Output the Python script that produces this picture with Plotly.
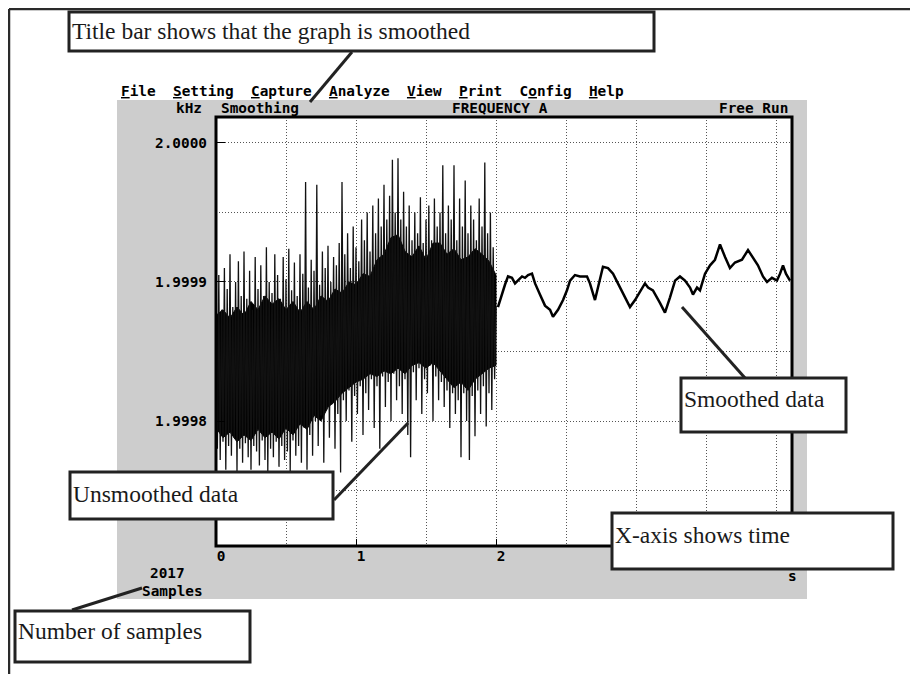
import numpy as np
import plotly.graph_objects as go

# a pagina do plotly tem 8 px de margem no body: desconta isso
OFF = 8
W, H = 918 - OFF, 674 - OFF

# ================= DADOS (kHz) =================
# parte sem suavizacao: 0 .. 2 s (picos e vales alternados)
unsmoothed_khz = [
    1.999885, 1.999780, 1.999905, 1.999772, 1.999880, 1.999785, 1.999910, 1.999765, 1.999895, 1.999782,
    1.999920, 1.999775, 1.999882, 1.999788, 1.999900, 1.999763, 1.999915, 1.999780, 1.999890, 1.999770,
    1.999922, 1.999784, 1.999888, 1.999774, 1.999908, 1.999765, 1.999880, 1.999782, 1.999918, 1.999778,
    1.999895, 1.999768, 1.999912, 1.999786, 1.999890, 1.999772, 1.999925, 1.999763, 1.999900, 1.999780,
    1.999892, 1.999774, 1.999920, 1.999785, 1.999905, 1.999767, 1.999888, 1.999782, 1.999918, 1.999772,
    1.999902, 1.999778, 1.999924, 1.999764, 1.999894, 1.999786, 1.999914, 1.999775, 1.999890, 1.999782,
    1.999920, 1.999770, 1.999906, 1.999795, 1.999972, 1.999765, 1.999896, 1.999790, 1.999916, 1.999775,
    1.999908, 1.999800, 1.999970, 1.999782, 1.999898, 1.999804, 1.999922, 1.999770, 1.999910, 1.999808,
    1.999926, 1.999788, 1.999900, 1.999812, 1.999918, 1.999780, 1.999912, 1.999805, 1.999928, 1.999763,
    1.999972, 1.999815, 1.999920, 1.999800, 1.999935, 1.999822, 1.999910, 1.999785, 1.999940, 1.999818,
    1.999925, 1.999805, 1.999915, 1.999825, 1.999945, 1.999790, 1.999930, 1.999820, 1.999950, 1.999808,
    1.999922, 1.999830, 1.999955, 1.999795, 1.999935, 1.999825, 1.999960, 1.999780, 1.999940, 1.999832,
    1.999970, 1.999810, 1.999945, 1.999828, 1.999962, 1.999800, 1.999988, 1.999834, 1.999950, 1.999815,
    1.999989, 1.999825, 1.999945, 1.999805, 1.999965, 1.999830, 1.999940, 1.999790, 1.999955, 1.999774,
    1.999930, 1.999835, 1.999950, 1.999815, 1.999935, 1.999838, 1.999961, 1.999805, 1.999928, 1.999830,
    1.999945, 1.999820, 1.999955, 1.999840, 1.999930, 1.999800, 1.999960, 1.999832, 1.999940, 1.999815,
    1.999950, 1.999828, 1.999984, 1.999810, 1.999935, 1.999822, 1.999955, 1.999795, 1.999945, 1.999820,
    1.999984, 1.999805, 1.999930, 1.999815, 1.999960, 1.999774, 1.999940, 1.999820, 1.999973, 1.999800,
    1.999935, 1.999772, 1.999955, 1.999818, 1.999945, 1.999789, 1.999930, 1.999822, 1.999960, 1.999805,
    1.999940, 1.999825, 1.999986, 1.999796, 1.999935, 1.999820, 1.999950, 1.999808, 1.999925, 1.999830,
    1.999882,
]
sample_step_s = 0.01
unsmoothed_t = np.arange(len(unsmoothed_khz)) * sample_step_s

# nucleo denso (faixa preta solida) da parte sem suavizacao, a cada 0.05 s
core_step_s = 0.05
core_top_khz = [
    1.999876, 1.999880, 1.999874, 1.999882, 1.999876, 1.999886, 1.999880, 1.999890, 1.999884, 1.999888,
    1.999880, 1.999886, 1.999878, 1.999886, 1.999880, 1.999890, 1.999886, 1.999895, 1.999892, 1.999900,
    1.999898, 1.999906, 1.999904, 1.999916, 1.999920, 1.999932, 1.999934, 1.999922, 1.999918, 1.999926,
    1.999916, 1.999928, 1.999928, 1.999920, 1.999924, 1.999916, 1.999918, 1.999924, 1.999920, 1.999915,
    1.999905,
]
core_bottom_khz = [
    1.999795, 1.999788, 1.999792, 1.999785, 1.999790, 1.999786, 1.999794, 1.999788, 1.999792, 1.999787,
    1.999795, 1.999790, 1.999798, 1.999794, 1.999804, 1.999800, 1.999810, 1.999814, 1.999820, 1.999824,
    1.999828, 1.999830, 1.999834, 1.999832, 1.999836, 1.999834, 1.999838, 1.999834, 1.999840, 1.999842,
    1.999838, 1.999842, 1.999836, 1.999830, 1.999824, 1.999828, 1.999822, 1.999830, 1.999834, 1.999838,
    1.999840,
]
core_t = list(np.arange(len(core_top_khz)) * core_step_s)

# parte suavizada: 2 .. 4.1 s
smoothed_t = [
    2.014, 2.043, 2.064, 2.086, 2.114, 2.136, 2.157, 2.186, 2.207, 2.229, 2.257, 2.279, 2.314, 2.35,
    2.386, 2.407, 2.443, 2.479, 2.507, 2.529, 2.564, 2.6, 2.65, 2.671, 2.707, 2.729, 2.764, 2.8,
    2.836, 2.871, 2.907, 2.957, 2.993, 3.029, 3.064, 3.086, 3.121, 3.171, 3.207, 3.243, 3.279, 3.314,
    3.35, 3.386, 3.407, 3.436, 3.457, 3.493, 3.529, 3.564, 3.6, 3.636, 3.671, 3.707, 3.757, 3.8,
    3.836, 3.871, 3.907, 3.936, 3.971, 4.007, 4.029, 4.05, 4.071, 4.1,
]
smoothed_khz = [
    1.999882, 1.999892, 1.999898, 1.999904, 1.999903, 1.999899, 1.999901, 1.999904, 1.999903, 1.999905,
    1.999906, 1.999899, 1.999891, 1.999883, 1.999880, 1.999875, 1.999880, 1.999887, 1.999894, 1.999901,
    1.999905, 1.999904, 1.999904, 1.999899, 1.999887, 1.999896, 1.999911, 1.999910, 1.999906, 1.999899,
    1.999892, 1.999882, 1.999887, 1.999893, 1.999899, 1.999896, 1.999894, 1.999885, 1.999878, 1.999889,
    1.999901, 1.999904, 1.999901, 1.999896, 1.999891, 1.999896, 1.999894, 1.999906, 1.999912, 1.999916,
    1.999927, 1.999918, 1.999910, 1.999914, 1.999916, 1.999923, 1.999917, 1.999912, 1.999904, 1.999900,
    1.999903, 1.999901, 1.999906, 1.999912, 1.999906, 1.999901,
]

y_tickvals = [1.9998, 1.9999, 2.0000]
y_ticktext = ['1.9998', '1.9999', '2.0000']
x_tickvals = [0, 1, 2]
x_ticktext = ['0', '1', '2']

menu_items = ['File', 'Setting', 'Capture', 'Analyze', 'View', 'Print', 'Config', 'Help']
menu_hotkey = [0, 0, 0, 0, 0, 0, 1, 0]
sample_count = 2017


# ================= HELPERS (pixel da tela -> paper) =================
def px(x):
    return (x - OFF) / W


def py(y):
    return 1 - (y - OFF) / H


MONO = dict(family='DejaVu Sans Mono', size=14.4, color='black', weight='bold')
SERIF = dict(family='Liberation Serif', size=23.5, color='#1a1a1a')

fig = go.Figure()
fig.add_trace(go.Scatter(x=core_t + core_t[::-1], y=core_top_khz + core_bottom_khz[::-1],
                         mode='lines', fill='toself', fillcolor='black',
                         line=dict(color='black', width=1), hoverinfo='skip'))
fig.add_trace(go.Scatter(x=unsmoothed_t, y=unsmoothed_khz, mode='lines',
                         line=dict(color='#111111', width=1.3), hoverinfo='skip'))
fig.add_trace(go.Scatter(x=smoothed_t, y=smoothed_khz, mode='lines',
                         line=dict(color='black', width=2.5), hoverinfo='skip'))

grid = dict(showgrid=True, gridcolor='#555555', griddash='1px,2px', gridwidth=1)

fig.update_layout(
    width=W, height=H,
    margin=dict(l=0, r=0, t=0, b=0),
    paper_bgcolor='white',
    plot_bgcolor='rgba(0,0,0,0)',
    showlegend=False,
    xaxis=dict(domain=[px(216), px(792)], range=[0, 576 / 140],
               tickvals=x_tickvals, ticktext=x_ticktext,
               ticks='inside', ticklen=7, tickcolor='black',
               tickfont=MONO, ticklabelshift=5,
               zeroline=False, showline=False,
               minor=dict(tickmode='linear', tick0=0, dtick=0.5, ticks='', **grid),
               **grid),
    yaxis=dict(domain=[py(546), py(117)], range=[1.99971007, 2.0000187],
               tickvals=y_tickvals, ticktext=y_ticktext,
               ticks='inside', ticklen=9, tickcolor='black',
               tickfont=MONO, ticklabelstandoff=8,
               zeroline=False, showline=False,
               minor=dict(tickmode='linear', tick0=1.99975, dtick=0.00005, ticks='', **grid),
               **grid),
)

shapes = []
# painel cinza + area branca do grafico
shapes.append(dict(type='rect', xref='paper', yref='paper', layer='below',
                   x0=px(117), x1=px(807), y0=py(599), y1=py(100),
                   fillcolor='#cdcdcd', line=dict(width=0)))
shapes.append(dict(type='rect', xref='paper', yref='paper', layer='below',
                   x0=px(216), x1=px(792), y0=py(546), y1=py(117),
                   fillcolor='white', line=dict(width=0)))
# borda do grafico
shapes.append(dict(type='rect', xref='paper', yref='paper', layer='above',
                   x0=px(216), x1=px(792), y0=py(546), y1=py(117),
                   line=dict(color='black', width=3)))
# moldura externa (a esquerda/topo so da pra desenhar a partir do pixel 8)
for x0, y0, x1, y1 in [(9, 9, 914, 9), (9, 9, 9, 674), (914, 9, 914, 674)]:
    shapes.append(dict(type='line', xref='paper', yref='paper', layer='above',
                       x0=px(x0), y0=py(y0), x1=px(x1), y1=py(y1),
                       line=dict(color='#2a2a2a', width=2.5)))

# ================= CALLOUTS =================
callouts = [
    # texto, caixa (x0, y0, x1, y1), ponteiro (xa, ya, xb, yb), y do texto
    ('Title bar shows that the graph is smoothed', (69, 12, 654, 51), (352, 52, 310, 102), 31),
    ('Unsmoothed data', (70, 472, 333, 519), (334, 500, 408, 423), 494),
    ('Smoothed data', (681, 378, 846, 432), (745, 378, 682, 307), 399),
    ('X-axis shows time', (612, 513, 893, 569), None, 535),
    ('Number of samples', (15, 611, 250, 662), (72, 610, 142, 588), 631),
]
annotations = []
for text, (bx0, by0, bx1, by1), ptr, ty in callouts:
    if ptr:
        xa, ya, xb, yb = ptr
        shapes.append(dict(type='line', xref='paper', yref='paper', layer='above',
                           x0=px(xa), y0=py(ya), x1=px(xb), y1=py(yb),
                           line=dict(color='#222222', width=3)))
    shapes.append(dict(type='rect', xref='paper', yref='paper', layer='above',
                       x0=px(bx0), x1=px(bx1), y0=py(by1), y1=py(by0),
                       fillcolor='white', line=dict(color='#222222', width=3)))
    annotations.append(dict(text=text, xref='paper', yref='paper', x=px(bx0 + 1), y=py(ty),
                            xanchor='left', yanchor='middle', showarrow=False, font=SERIF))

# ================= TEXTOS DA TELA =================
menu = '\u00a0\u00a0'.join(
    w[:k] + '<u>' + w[k] + '</u>' + w[k + 1:] for w, k in zip(menu_items, menu_hotkey))
screen_texts = [
    (menu, 119, 91, 'left'),
    ('kHz', 204, 108, 'right'),
    ('Smoothing', 219, 108, 'left'),
    ('FREQUENCY A', 500, 108, 'center'),
    ('Free Run', 790, 108, 'right'),
    (str(sample_count), 167, 573, 'center'),
    ('Samples', 172, 591, 'center'),
    ('s', 792, 576, 'center'),
]
for text, x, y, anchor in screen_texts:
    annotations.append(dict(text=text, xref='paper', yref='paper', x=px(x), y=py(y),
                            xanchor=anchor, yanchor='middle', showarrow=False, font=MONO))

fig.update_layout(shapes=shapes, annotations=annotations)

fig.write_html('out.html')
